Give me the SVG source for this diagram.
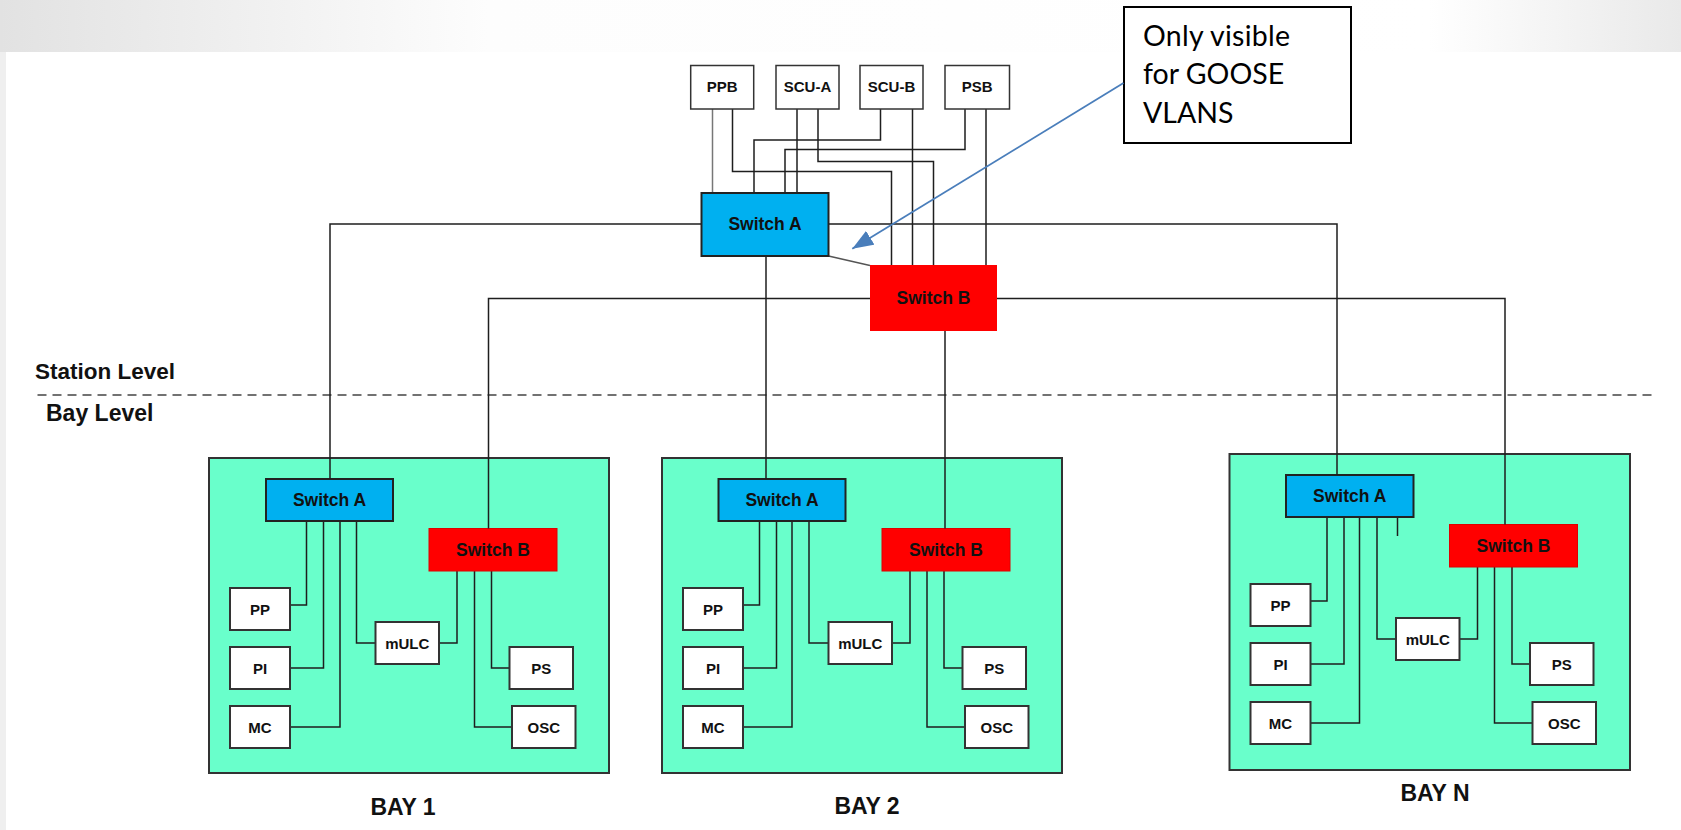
<svg xmlns="http://www.w3.org/2000/svg" width="1681" height="830" viewBox="0 0 1681 830">
<defs>
<linearGradient id="topband" x1="0" y1="0" x2="1" y2="0">
<stop offset="0" stop-color="#e2e2e2"/>
<stop offset="0.29" stop-color="#fdfdfd"/>
<stop offset="0.85" stop-color="#ffffff"/>
<stop offset="1" stop-color="#e9e9e9"/>
</linearGradient>
<marker id="arrowhead" markerUnits="userSpaceOnUse" markerWidth="22" markerHeight="16" refX="21" refY="8" orient="auto">
<path d="M0,0 L21,8 L0,16 z" fill="#4A7EBB"/>
</marker>
<style>
.lbl{font-family:"Liberation Sans",Arial,sans-serif;font-weight:bold;fill:#111;text-anchor:middle}
.sm{font-size:15px}
.sw{font-size:17.5px}
.big{font-size:23px}
.lvl{font-family:"Liberation Sans",Arial,sans-serif;font-weight:bold;fill:#111;font-size:22.5px}
.dev{fill:#fff;stroke:#333;stroke-width:2}
.top{fill:#fff;stroke:#333;stroke-width:1.5}
.swa{fill:#00B0F0;stroke:#222;stroke-width:2}
.swb{fill:#FF0000;stroke:#e00000;stroke-width:1}
.bay{fill:#69FFCB;stroke:#333;stroke-width:2}
.links path{fill:none;stroke:#1e1e1e;stroke-width:1.5}
.callout{fill:#fff;stroke:#000;stroke-width:2}
.ctext{font-family:Lato,"Open Sans",sans-serif;font-size:28.5px;fill:#000}
</style>
</defs>

<rect x="0" y="0" width="1681" height="830" fill="#fff"/>
<rect x="0" y="0" width="1681" height="52" fill="url(#topband)"/>
<rect x="0" y="52" width="6" height="778" fill="#efefef"/>

<!-- level separator -->
<g id="levels">
<path d="M37.5 395 H1654" stroke="#444" stroke-width="1.5" stroke-dasharray="9 6" fill="none"/>
<text class="lvl" x="35" y="379">Station Level</text>
<text class="lvl" x="46" y="420.5" style="font-size:23px">Bay Level</text>
</g>

<!-- Bays (boxes underneath connectors) -->
<g id="bay1" transform="translate(209,458)">
<g id="bay1-box"><rect class="bay" x="0" y="0" width="400" height="315"/></g>
<g class="links" id="bay1-links">
<path d="M97.5 63 V147 H81"/>
<path d="M114.5 63 V210 H81"/>
<path d="M131 63 V269 H81"/>
<path d="M147.5 63 V185 H166.5"/>
<path d="M248 113 V185 H230"/>
<path d="M265.5 113 V269 H303"/>
<path d="M282.5 113 V210 H300.5"/>
</g>
<g id="bay1-switchA"><rect class="swa" x="57" y="21" width="127" height="42"/><text class="lbl sw" x="120.5" y="48.3">Switch A</text></g>
<g id="bay1-switchB"><rect class="swb" x="220" y="70.5" width="128" height="42.5"/><text class="lbl sw" x="284" y="98">Switch B</text></g>
<g id="bay1-PP"><rect class="dev" x="21" y="130" width="60" height="42"/><text class="lbl sm" x="51" y="156.5">PP</text></g>
<g id="bay1-PI"><rect class="dev" x="21" y="189" width="60" height="42"/><text class="lbl sm" x="51" y="215.5">PI</text></g>
<g id="bay1-MC"><rect class="dev" x="21" y="248" width="60" height="42"/><text class="lbl sm" x="51" y="274.5">MC</text></g>
<g id="bay1-mULC"><rect class="dev" x="166.5" y="164" width="63.5" height="42"/><text class="lbl sm" x="198.3" y="190.5">mULC</text></g>
<g id="bay1-PS"><rect class="dev" x="300.5" y="189" width="63.5" height="42"/><text class="lbl sm" x="332.3" y="215.5">PS</text></g>
<g id="bay1-OSC"><rect class="dev" x="303" y="248" width="63.5" height="42"/><text class="lbl sm" x="334.8" y="274.5">OSC</text></g>
</g>

<g id="bay2" transform="translate(662,458)">
<g id="bay2-box"><rect class="bay" x="0" y="0" width="400" height="315"/></g>
<g class="links" id="bay2-links">
<path d="M97.5 63 V147 H81"/>
<path d="M114.5 63 V210 H81"/>
<path d="M130 63 V269 H81"/>
<path d="M147 63 V185 H166.5"/>
<path d="M248 113 V185 H230"/>
<path d="M265 113 V269 H303"/>
<path d="M282 113 V210 H300.5"/>
</g>
<g id="bay2-switchA"><rect class="swa" x="56.5" y="21" width="127" height="42"/><text class="lbl sw" x="120" y="48.3">Switch A</text></g>
<g id="bay2-switchB"><rect class="swb" x="220" y="70.5" width="128" height="42.5"/><text class="lbl sw" x="284" y="98">Switch B</text></g>
<g id="bay2-PP"><rect class="dev" x="21" y="130" width="60" height="42"/><text class="lbl sm" x="51" y="156.5">PP</text></g>
<g id="bay2-PI"><rect class="dev" x="21" y="189" width="60" height="42"/><text class="lbl sm" x="51" y="215.5">PI</text></g>
<g id="bay2-MC"><rect class="dev" x="21" y="248" width="60" height="42"/><text class="lbl sm" x="51" y="274.5">MC</text></g>
<g id="bay2-mULC"><rect class="dev" x="166.5" y="164" width="63.5" height="42"/><text class="lbl sm" x="198.3" y="190.5">mULC</text></g>
<g id="bay2-PS"><rect class="dev" x="300.5" y="189" width="63.5" height="42"/><text class="lbl sm" x="332.3" y="215.5">PS</text></g>
<g id="bay2-OSC"><rect class="dev" x="303" y="248" width="63.5" height="42"/><text class="lbl sm" x="334.8" y="274.5">OSC</text></g>
</g>

<g id="bayN" transform="translate(1229.5,454)">
<g id="bayN-box"><rect class="bay" x="0" y="0" width="400.5" height="316"/></g>
<g class="links" id="bayN-links">
<path d="M97.5 63 V147 H81"/>
<path d="M114.5 63 V210 H81"/>
<path d="M130 63 V269 H81"/>
<path d="M147.5 63 V185 H166.5"/>
<path d="M168 63 V82"/>
<path d="M248 113 V185 H230"/>
<path d="M265 113 V269 H303"/>
<path d="M282.5 113 V210 H300.5"/>
</g>
<g id="bayN-switchA"><rect class="swa" x="56.5" y="21" width="127.5" height="42"/><text class="lbl sw" x="120.2" y="48.3">Switch A</text></g>
<g id="bayN-switchB"><rect class="swb" x="220" y="70.5" width="128" height="42.5"/><text class="lbl sw" x="284" y="98">Switch B</text></g>
<g id="bayN-PP"><rect class="dev" x="21" y="130" width="60" height="42"/><text class="lbl sm" x="51" y="156.5">PP</text></g>
<g id="bayN-PI"><rect class="dev" x="21" y="189" width="60" height="42"/><text class="lbl sm" x="51" y="215.5">PI</text></g>
<g id="bayN-MC"><rect class="dev" x="21" y="248" width="60" height="42"/><text class="lbl sm" x="51" y="274.5">MC</text></g>
<g id="bayN-mULC"><rect class="dev" x="166.5" y="164" width="63.5" height="42"/><text class="lbl sm" x="198.3" y="190.5">mULC</text></g>
<g id="bayN-PS"><rect class="dev" x="300.5" y="189" width="63.5" height="42"/><text class="lbl sm" x="332.3" y="215.5">PS</text></g>
<g id="bayN-OSC"><rect class="dev" x="303" y="248" width="63.5" height="42"/><text class="lbl sm" x="334.8" y="274.5">OSC</text></g>
</g>

<!-- station-level connectors -->
<g class="links" id="station-links">
<path d="M712.5 109 V193" style="stroke:#777"/>
<path d="M732.5 109 V171.5 H891.5 V265"/>
<path d="M797 109 V193"/>
<path d="M818 109 V161.5 H933.5 V265"/>
<path d="M880.5 109 V140 H754 V193"/>
<path d="M912.5 109 V265"/>
<path d="M965 109 V149.5 H785 V193"/>
<path d="M986 109 V265"/>
<path d="M828.5 256 L870 265.5" style="stroke:#555"/>
<path d="M701.5 224 H330 V479"/>
<path d="M828.5 224 H1337 V475"/>
<path d="M766 256 V479"/>
<path d="M870 298.5 H488.5 V528.5"/>
<path d="M997 298.5 H1505 V524.5"/>
<path d="M945 331 V528.5"/>
</g>

<!-- station-level nodes -->
<g id="PPB"><rect class="top" x="690.7" y="65.5" width="63" height="43.5"/><text class="lbl sm" x="722.2" y="92.3">PPB</text></g>
<g id="SCU-A"><rect class="top" x="776" y="65.5" width="63" height="43.5"/><text class="lbl sm" x="807.5" y="92.3">SCU-A</text></g>
<g id="SCU-B"><rect class="top" x="860" y="65.5" width="63" height="43.5"/><text class="lbl sm" x="891.5" y="92.3">SCU-B</text></g>
<g id="PSB"><rect class="top" x="945" y="65.5" width="64.5" height="43.5"/><text class="lbl sm" x="977.2" y="92.3">PSB</text></g>
<g id="station-switchA"><rect class="swa" x="701.5" y="193" width="127" height="63"/><text class="lbl sw" x="765" y="230.3">Switch A</text></g>
<g id="station-switchB"><rect class="swb" x="870" y="265" width="127" height="66" style="stroke:none"/><text class="lbl sw" x="933.5" y="304.3">Switch B</text></g>

<!-- bay captions -->
<g id="captions">
<text class="lbl big" x="403" y="815">BAY 1</text>
<text class="lbl big" x="867" y="814">BAY 2</text>
<text class="lbl big" x="1435" y="801">BAY N</text>
</g>

<!-- callout -->
<g id="callout">
<rect class="callout" x="1124" y="7" width="227" height="136"/>
<text class="ctext" x="1143" y="46" textLength="147" lengthAdjust="spacing">Only visible</text>
<text class="ctext" x="1143" y="84">for GOOSE</text>
<text class="ctext" x="1143" y="122.5">VLANS</text>
</g>
<g class="links" id="callout-link">
<path d="M1123.5 83 L852.3 248.7" style="stroke:#4A7EBB;stroke-width:1.8" marker-end="url(#arrowhead)"/>
</g>
</svg>
